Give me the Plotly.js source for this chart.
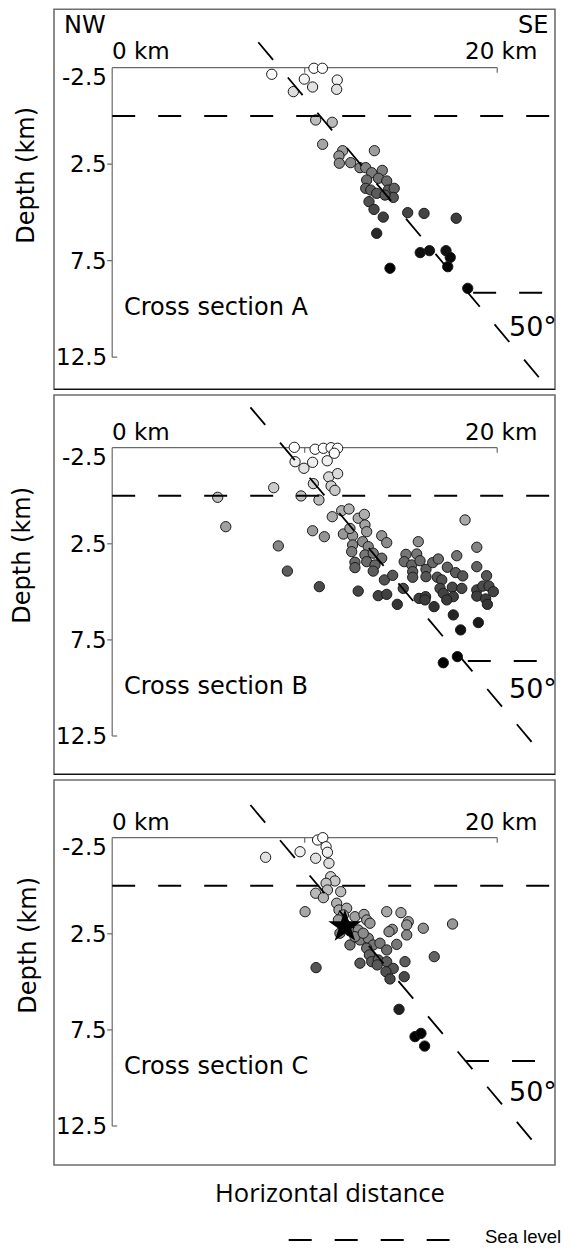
<!DOCTYPE html>
<html><head><meta charset="utf-8">
<script src="https://cdn.plot.ly/plotly-3.0.1.min.js"></script>
<style>html,body{margin:0;padding:0;background:#fff;}#chart{width:573px;height:1248px;}</style>
</head><body><div id="chart"></div>
<script>
// ---------------- DATA ----------------
const sectionNames = ['Cross section A', 'Cross section B', 'Cross section C'];
const depthTicks = [-2.5, 2.5, 7.5, 12.5];
const depthTickLabels = ['-2.5', '2.5', '7.5', '12.5'];
const distTicks = [0, 10, 20];
const distTickLabels = ['0 km', '', '20 km'];
const dipLabel = '50°';

// Cross section A hypocentres: horizontal distance (km), depth (km)
const distA = [8.29,10.48,10.92,9.98,9.41,10.41,11.69,11.66,10.57,11.43,10.93,11.97,11.78,11.80,13.62,12.39,12.87,13.17,13.48,14.03,13.22,13.83,14.26,13.17,13.43,13.74,14.34,14.65,14.60,14.17,13.34,13.60,14.08,13.74,15.35,14.43,16.20,17.87,16.00,16.48,17.34,17.56,17.43,18.47];
const depthA = [-2.16,-2.47,-2.47,-1.91,-1.26,-1.50,-1.86,-1.38,0.21,0.33,1.47,1.80,2.07,2.45,1.80,2.42,2.68,2.68,2.94,2.82,3.32,3.23,3.37,3.75,3.84,4.01,3.84,3.75,4.22,4.10,4.44,4.84,5.24,6.08,5.01,7.89,5.05,5.30,7.08,6.98,6.98,7.33,7.81,8.93];

// Cross section B
const distB = [9.46,10.54,10.97,11.37,11.71,11.54,9.50,9.96,10.41,11.17,11.25,11.71,10.45,11.37,11.57,8.39,5.48,9.81,10.74,5.90,11.92,12.30,11.43,12.78,10.41,11.02,8.63,9.10,10.76,12.78,12.01,12.49,12.49,12.44,12.61,12.61,12.35,13.10,13.13,13.22,14.00,14.26,13.01,13.30,13.13,13.56,14.00,13.22,13.65,13.56,14.14,14.57,15.90,18.33,15.26,15.82,15.17,15.56,15.99,15.61,15.61,16.30,16.30,16.65,16.94,17.90,18.94,17.41,17.84,18.21,18.94,19.45,16.89,17.12,17.03,17.20,17.67,17.72,18.16,17.38,18.94,19.25,19.57,19.80,18.94,19.40,19.49,13.82,14.26,14.81,15.12,15.94,16.28,16.25,16.72,17.72,19.02,18.10,17.20,17.93];
const depthB = [-2.52,-2.42,-2.47,-2.50,-2.47,-2.21,-1.77,-1.43,-1.74,-1.82,-0.98,-1.15,-0.63,-0.51,-0.28,-0.42,0.08,0.01,0.22,1.61,0.78,0.69,1.09,1.17,1.82,2.13,2.61,3.92,4.73,4.96,1.99,2.08,2.56,2.91,3.46,3.74,1.70,0.97,1.52,1.87,2.08,2.44,2.39,2.65,3.08,2.99,3.25,3.43,3.60,3.92,4.38,4.14,2.39,1.26,3.05,3.03,3.43,3.60,3.38,3.95,4.24,3.83,4.21,3.48,3.29,3.12,2.68,3.72,4.00,4.17,3.69,4.16,4.24,4.38,4.82,5.08,4.76,5.25,4.82,5.42,4.90,4.70,4.70,4.99,5.22,5.37,5.65,5.20,5.13,5.65,4.82,5.34,5.25,5.42,5.77,6.20,6.60,6.98,8.69,8.37];

// Cross section C
const distC = [10.67,10.94,11.11,11.18,10.57,11.26,9.76,7.97,11.35,11.57,11.11,11.18,10.57,10.97,11.87,10.02,11.66,11.78,12.18,12.01,11.75,12.61,13.08,13.22,13.39,14.26,15.00,15.38,15.30,14.55,14.38,15.30,11.83,12.35,12.78,12.35,12.87,13.30,13.56,13.22,13.91,14.26,14.78,13.36,13.48,12.87,13.82,13.77,14.26,14.60,14.22,14.43,15.21,15.17,10.59,14.90,15.73,16.04,16.23,16.16,17.68,16.73,12.61,13.04];
const depthC = [-2.38,-2.50,-2.03,-1.74,-1.43,-1.17,-1.77,-1.48,-0.47,-0.25,-0.13,0.22,0.39,0.62,0.31,1.35,0.91,1.26,1.17,1.52,1.78,1.61,1.49,1.78,1.95,1.35,1.40,1.87,2.04,2.27,2.39,2.56,2.47,2.35,2.30,3.08,2.82,2.73,3.08,3.25,2.99,3.34,3.05,3.60,3.95,4.03,3.86,4.12,3.95,4.30,4.47,4.85,3.95,4.73,4.26,6.43,7.85,7.68,8.34,2.21,1.99,3.69,2.65,2.47];

// Mainshock (star) in section C
const mainshockDist = [12.09];
const mainshockDepth = [2.13];

// 50 degree dipping fault trace per section (end points)
const faultDistA = [7.59, 22.17], faultDepthA = [-3.82, 13.55];
const faultDistB = [7.18, 21.85], faultDepthB = [-4.60, 12.88];
const faultDistC = [7.18, 21.85], faultDepthC = [-4.20, 13.28];

// Sea level (depth 0) and lower dashed marker per section
const seaLevelDist = [0, 22.75], seaLevelDepth = [0, 0];
const lowerDistA = [18.75, 22.5], lowerDepthA = [9.16, 9.16];
const lowerDistB = [18.47, 22.1], lowerDepthB = [8.6, 8.6];
const lowerDistC = [18.38, 22.0], lowerDepthC = [9.12, 9.12];

// ---------------- LAYOUT GEOMETRY ----------------
const W = 573, H = 1248;
const LEFT = 54, RIGHT = 555, X0PX = 112.2, XS = 19.25;
const panels = [
  {top: 9.3,  bottom: 389.3, axisY: 67.7,  ys: 19.3,  dist: distA, depth: depthA, fx: faultDistA, fd: faultDepthA, lx: lowerDistA, ld: lowerDepthA, dipY: 10.92, depthTitleX: 26, secY: 9.92},
  {top: 395,  bottom: 774.3, axisY: 447.7, ys: 19.22, dist: distB, depth: depthB, fx: faultDistB, fd: faultDepthB, lx: lowerDistB, ld: lowerDepthB, dipY: 10.05, depthTitleX: 22, secY: 9.89},
  {top: 780,  bottom: 1165,  axisY: 837.7, ys: 19.22, dist: distC, depth: depthC, fx: faultDistC, fd: faultDepthC, lx: lowerDistC, ld: lowerDepthC, dipY: 10.72, depthTitleX: 28, secY: 9.37}
];
const FONT = 'DejaVu Sans, Liberation Sans, Arial, sans-serif';
const DASH = '23px,23px';
const greyScale = [
  [0.000, '#ffffff'], [0.048, '#f8f8f8'], [0.095, '#e2e2e2'], [0.190, '#cfcfcf'],
  [0.238, '#c0c0c0'], [0.381, '#a4a4a4'], [0.476, '#8a8a8a'], [0.571, '#686868'],
  [0.667, '#4f4f4f'], [0.762, '#393939'], [0.857, '#1e1e1e'], [0.952, '#050505'], [1.000, '#000000']
];

const traces = [];
const shapes = [];
const annotations = [];
const layout = {
  width: W, height: H, margin: {l: 0, r: 0, t: 0, b: 0},
  paper_bgcolor: '#ffffff', plot_bgcolor: 'rgba(0,0,0,0)', showlegend: false,
  shapes: shapes, annotations: annotations
};

panels.forEach((p, i) => {
  const sfx = i === 0 ? '' : String(i + 1);
  const xa = 'x' + sfx, ya = 'y' + sfx;
  layout['xaxis' + sfx] = {
    domain: [LEFT / W, RIGHT / W],
    range: [(LEFT - X0PX) / XS, (RIGHT - X0PX) / XS],
    visible: false, fixedrange: true, anchor: ya
  };
  layout['yaxis' + sfx] = {
    domain: [1 - p.bottom / H, 1 - p.top / H],
    range: [-2.5 + (p.bottom - p.axisY) / p.ys, -2.5 + (p.top - p.axisY) / p.ys],
    visible: false, fixedrange: true, anchor: xa
  };
  const tkx = 5 / XS, tky = 5 / p.ys;

  // hypocentres
  traces.push({
    type: 'scatter', mode: 'markers', x: p.dist, y: p.depth, xaxis: xa, yaxis: ya,
    hoverinfo: 'skip',
    marker: {size: 10.3, color: p.depth, colorscale: greyScale, cmin: -2.5, cmax: 8, showscale: false,
             line: {color: '#1a1a1a', width: 1}}
  });
  // fault (50 degrees)
  traces.push({type: 'scatter', mode: 'lines', x: p.fx, y: p.fd, xaxis: xa, yaxis: ya, hoverinfo: 'skip',
    line: {color: '#000', width: 1.8, dash: DASH}});
  // sea level
  traces.push({type: 'scatter', mode: 'lines', x: seaLevelDist, y: seaLevelDepth, xaxis: xa, yaxis: ya, hoverinfo: 'skip',
    line: {color: '#000', width: 2, dash: DASH}});
  // lower dashed marker
  traces.push({type: 'scatter', mode: 'lines', x: p.lx, y: p.ld, xaxis: xa, yaxis: ya, hoverinfo: 'skip',
    line: {color: '#000', width: 2, dash: DASH}});
  if (i === 2) {
    traces.push({type: 'scatter', mode: 'markers', x: mainshockDist, y: mainshockDepth, xaxis: xa, yaxis: ya,
      hoverinfo: 'skip', marker: {symbol: 'star', size: 25, color: '#000', line: {color: '#000', width: 0}}});
  }

  // panel frame
  shapes.push({type: 'rect', xref: 'paper', yref: 'paper', x0: LEFT / W, x1: RIGHT / W,
    y0: 1 - p.bottom / H, y1: 1 - p.top / H, line: {color: '#6e6e6e', width: 1.6}, layer: 'below'});
  if (i < 2) {
    shapes.push({type: 'line', xref: 'paper', yref: 'paper', x0: LEFT / W, x1: RIGHT / W,
      y0: 1 - p.bottom / H, y1: 1 - p.bottom / H, line: {color: '#111', width: 1.2}});
  }
  // distance axis (top)
  const dMin = depthTicks[0], dMax = depthTicks[depthTicks.length - 1];
  shapes.push({type: 'line', xref: xa, yref: ya, x0: distTicks[0], x1: distTicks[distTicks.length - 1], y0: dMin, y1: dMin,
    line: {color: '#6a6a6a', width: 1.2}, layer: 'below'});
  distTicks.slice(1).forEach(t => shapes.push({type: 'line', xref: xa, yref: ya, x0: t, x1: t, y0: dMin, y1: dMin + tky,
    line: {color: '#6a6a6a', width: 1.2}, layer: 'below'}));
  // depth axis (left)
  shapes.push({type: 'line', xref: xa, yref: ya, x0: 0, x1: 0, y0: dMin, y1: dMax,
    line: {color: '#6a6a6a', width: 1.2}, layer: 'below'});
  depthTicks.slice(1, -1).forEach(t => shapes.push({type: 'line', xref: xa, yref: ya, x0: -tkx, x1: 0, y0: t, y1: t,
    line: {color: '#6a6a6a', width: 1.2}, layer: 'below'}));
  shapes.push({type: 'line', xref: xa, yref: ya, x0: 0, x1: tkx, y0: dMax, y1: dMax,
    line: {color: '#6a6a6a', width: 1.2}, layer: 'below'});

  // depth tick labels
  depthTicks.forEach((t, k) => annotations.push({xref: xa, yref: ya, x: 0, y: t, text: depthTickLabels[k],
    xanchor: 'right', yanchor: 'middle', xshift: -3, yshift: k === 0 ? -9 : 0, showarrow: false,
    font: {family: FONT, size: 23, color: '#000'}}));
  // distance labels
  annotations.push({xref: xa, yref: ya, x: distTicks[0], y: -3.34, text: distTickLabels[0], xanchor: 'left',
    yanchor: 'middle', xshift: -2, showarrow: false, font: {family: FONT, size: 23, color: '#000'}});
  annotations.push({xref: xa, yref: ya, x: 22.17, y: -3.34, text: distTickLabels[2], xanchor: 'right',
    yanchor: 'middle', showarrow: false, font: {family: FONT, size: 23, color: '#000'}});
  // section name
  annotations.push({xref: xa, yref: ya, x: 0.53, y: p.secY, text: sectionNames[i], xanchor: 'left',
    yanchor: 'middle', showarrow: false, font: {family: FONT, size: 24, color: '#000'}});
  // dip label
  annotations.push({xref: xa, yref: ya, x: 20.5, y: p.dipY, text: dipLabel, xanchor: 'left',
    yanchor: 'middle', showarrow: false, font: {family: FONT, size: 27, color: '#000'}});
  // depth title
  annotations.push({xref: 'paper', yref: 'paper', x: p.depthTitleX / W, y: 1 - (p.axisY + 108) / H,
    text: 'Depth (km)', textangle: -90, xanchor: 'center', yanchor: 'middle', showarrow: false,
    font: {family: FONT, size: 24, color: '#000'}});
  if (i === 0) {
    annotations.push({xref: xa, yref: ya, x: -2.6, y: -4.71, text: 'NW', xanchor: 'left', yanchor: 'middle',
      showarrow: false, font: {family: FONT, size: 24, color: '#000'}});
    annotations.push({xref: xa, yref: ya, x: 22.75, y: -4.71, text: 'SE', xanchor: 'right', yanchor: 'middle',
      showarrow: false, font: {family: FONT, size: 24, color: '#000'}});
  }
});

// x title and legend
annotations.push({xref: 'paper', yref: 'paper', x: 329.9 / W, y: 1 - 1191.7 / H, text: 'Horizontal distance',
  xanchor: 'center', yanchor: 'middle', showarrow: false, font: {family: 'Open Sans, sans-serif', size: 25.5, color: '#000'}});
shapes.push({type: 'line', xref: 'paper', yref: 'paper', x0: 288.7 / W, x1: 449.6 / W, y0: 1 - 1240 / H, y1: 1 - 1240 / H,
  line: {color: '#000', width: 2, dash: DASH}});
annotations.push({xref: 'paper', yref: 'paper', x: 483 / W, y: 1 - 1236 / H, text: 'Sea level',
  xanchor: 'left', yanchor: 'middle', showarrow: false, font: {family: 'Liberation Sans, Arial, sans-serif', size: 18.5, color: '#000'}});

Plotly.newPlot('chart', traces, layout, {displayModeBar: false, staticPlot: true});
</script></body></html>
